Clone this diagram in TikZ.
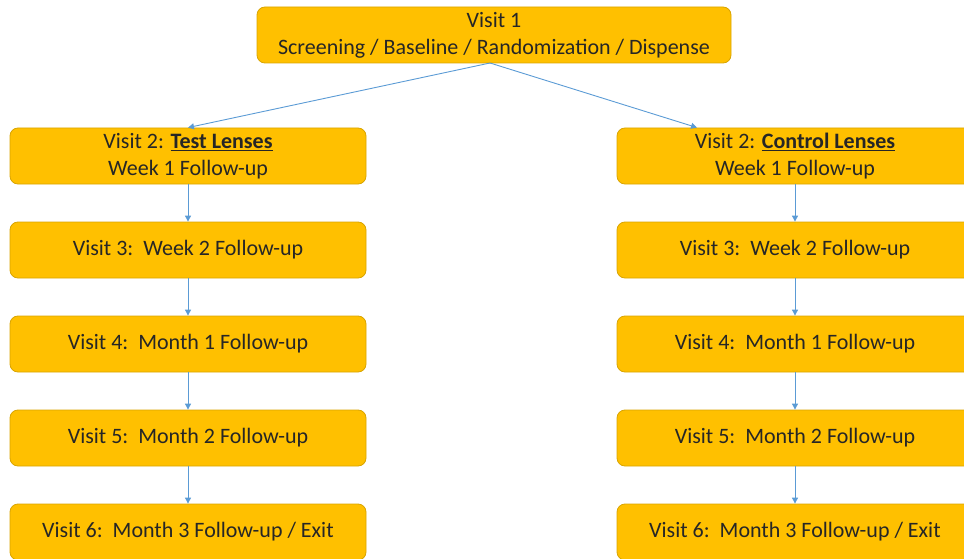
\documentclass[tikz,border=0pt]{standalone}
\usepackage{fontspec}
\setmainfont{Carlito}
\usetikzlibrary{arrows.meta}
\definecolor{boxfill}{HTML}{FFC000}
\definecolor{boxedge}{HTML}{D9A400}
\definecolor{arr}{HTML}{5B9BD5}
\begin{document}
\begin{tikzpicture}[x=1pt,y=-1pt,
  visit/.style={draw=boxedge,line width=0.8pt,fill=boxfill,rounded corners=8pt,
    minimum width=356pt,minimum height=56pt,inner sep=0pt,align=center,
    font=\fontsize{22}{27}\selectfont,text=black!85},
  conn/.style={draw=arr,line width=0.9pt,-{Triangle[length=6pt,width=6pt]}}]
\useasboundingbox (0,0) rectangle (964,559);
\clip (0,0) rectangle (964,559);
\node[visit,minimum width=474pt] (v1) at (494,35) {Visit 1\\Screening / Baseline / Randomization / Dispense};
\node[visit] (l2) at (188,156) {Visit 2: \underline{\textbf{Test Lenses}}\\Week 1 Follow-up};
\node[visit] (l3) at (188,250) {Visit 3:\ \ Week 2 Follow-up};
\node[visit] (l4) at (188,344) {Visit 4:\ \ Month 1 Follow-up};
\node[visit] (l5) at (188,438) {Visit 5:\ \ Month 2 Follow-up};
\node[visit] (l6) at (188,532) {Visit 6:\ \ Month 3 Follow-up / Exit};
\node[visit] (r2) at (795,156) {Visit 2: \underline{\textbf{Control Lenses}}\\Week 1 Follow-up};
\node[visit] (r3) at (795,250) {Visit 3:\ \ Week 2 Follow-up};
\node[visit] (r4) at (795,344) {Visit 4:\ \ Month 1 Follow-up};
\node[visit] (r5) at (795,438) {Visit 5:\ \ Month 2 Follow-up};
\node[visit] (r6) at (795,532) {Visit 6:\ \ Month 3 Follow-up / Exit};
\coordinate (v1b) at (490,63);
\draw[conn] (v1b) -- (l2.north);
\draw[conn] (v1b) -- ([xshift=-98pt]r2.north);
\foreach \a/\b in {l2/l3,l3/l4,l4/l5,l5/l6,r2/r3,r3/r4,r4/r5,r5/r6}
  \draw[conn] (\a.south) -- (\b.north);
\end{tikzpicture}
\end{document}
